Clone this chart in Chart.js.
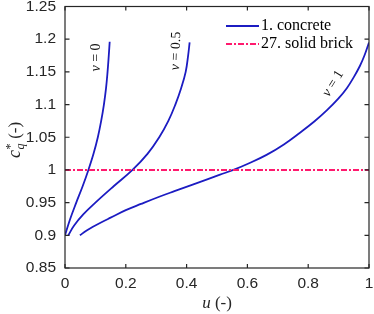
<!DOCTYPE html>
<html lang="en">
  <head>
    <meta charset="UTF-8" />
    <title>c_q* against u</title>
    <script src="https://cdn.jsdelivr.net/npm/chart.js@4.4.1/dist/chart.umd.min.js"></script>
    <style>
      html, body { margin: 0; padding: 0; background: #fff; }
    </style>
  </head>
  <body>
    <canvas id="myChart" width="374" height="314"></canvas>
    <script>
      // tick labels
      const xTicks = [0, 0.2, 0.4, 0.6, 0.8, 1];
      const yTicks = [0.85, 0.9, 0.95, 1, 1.05, 1.1, 1.15, 1.2, 1.25];

      // 1. concrete, v = 0
      const uV0 = [0, 0.017, 0.037, 0.058, 0.077, 0.094, 0.108, 0.119, 0.128, 0.135, 0.14, 0.144, 0.147];
      const cV0 = [0.9, 0.925, 0.95, 0.975, 1.0, 1.025, 1.05, 1.075, 1.1, 1.125, 1.15, 1.175, 1.196];

      // 1. concrete, v = 0.5
      const uV05 = [0.011, 0.03, 0.06, 0.1, 0.16, 0.222, 0.272, 0.31, 0.34, 0.363, 0.382, 0.397, 0.405, 0.41];
      const cV05 = [0.9, 0.915, 0.932, 0.95, 0.975, 1.0, 1.025, 1.05, 1.075, 1.1, 1.125, 1.15, 1.175, 1.195];

      // 1. concrete, v = 1
      const uV1 = [0.049, 0.07, 0.092, 0.12, 0.15, 0.2, 0.25, 0.31, 0.36, 0.42, 0.47, 0.51, 0.554, 0.6, 0.663, 0.72, 0.773, 0.82, 0.861, 0.899, 0.927, 0.95, 0.97, 0.985, 1.0];
      const cV1 = [0.9, 0.907, 0.913, 0.92, 0.927, 0.9385, 0.948, 0.959, 0.9675, 0.9775, 0.986, 0.9928, 1.0, 1.009, 1.023, 1.039, 1.057, 1.074, 1.091, 1.109, 1.125, 1.142, 1.159, 1.175, 1.195];

      // 27. solid brick
      const uBrick = [0, 1];
      const cBrick = [1, 1];

      const seriesNames = ["1. concrete", "27. solid brick"];
      const curveNames = ["v = 0", "v = 0.5", "v = 1"];

      const blue = "#1c1cc2";
      const pink = "#ff1a6e";
      const axisCol = "#262626";
      const dashDot = [6, 2, 2, 2];

      function pts(us, cs) {
        return us.map((u, i) => ({ x: u, y: cs[i] }));
      }

      // where the v = ... notes sit (data coords) and their angle
      const notes = [
        { u: 0.102, c: 1.172, rot: -90 },
        { u: 0.365, c: 1.182, rot: -88 },
        { u: 0.882, c: 1.132, rot: -58 },
      ];

      const extras = {
        id: "extras",
        afterDatasetsDraw(chart) {
          const { ctx, chartArea: a, scales } = chart;
          const x = scales.x, y = scales.y;
          ctx.save();

          // box with inward ticks
          ctx.strokeStyle = axisCol;
          ctx.lineWidth = 1.2;
          ctx.strokeRect(a.left, a.top, a.right - a.left, a.bottom - a.top);
          ctx.beginPath();
          xTicks.forEach((v) => {
            const px = x.getPixelForValue(v);
            ctx.moveTo(px, a.bottom); ctx.lineTo(px, a.bottom - 4);
            ctx.moveTo(px, a.top); ctx.lineTo(px, a.top + 4);
          });
          yTicks.forEach((v) => {
            const py = y.getPixelForValue(v);
            ctx.moveTo(a.left, py); ctx.lineTo(a.left + 4.5, py);
            ctx.moveTo(a.right, py); ctx.lineTo(a.right - 4.5, py);
          });
          ctx.stroke();

          // curve notes
          ctx.fillStyle = "#111";
          ctx.textBaseline = "middle";
          notes.forEach((n, i) => {
            const txt = curveNames[i];
            const head = txt.slice(0, 1);
            const tail = txt.slice(1);
            ctx.save();
            ctx.translate(x.getPixelForValue(n.u), y.getPixelForValue(n.c));
            ctx.rotate((n.rot * Math.PI) / 180);
            ctx.font = "italic 14px 'Liberation Serif'";
            const w1 = ctx.measureText(head).width;
            ctx.font = "14px 'Liberation Serif'";
            const w2 = ctx.measureText(tail).width;
            let sx = -(w1 + w2) / 2;
            ctx.textAlign = "left";
            ctx.font = "italic 14px 'Liberation Serif'";
            ctx.fillText(head, sx, 0);
            ctx.font = "14px 'Liberation Serif'";
            ctx.fillText(tail, sx + w1, 0);
            ctx.restore();
          });

          // legend
          const rows = [
            { col: blue, dash: [], name: seriesNames[0], yy: 26 },
            { col: pink, dash: dashDot, name: seriesNames[1], yy: 44 },
          ];
          rows.forEach((r) => {
            ctx.strokeStyle = r.col;
            ctx.lineWidth = 1.8;
            ctx.setLineDash(r.dash);
            ctx.beginPath();
            ctx.moveTo(226, r.yy);
            ctx.lineTo(259, r.yy);
            ctx.stroke();
            ctx.setLineDash([]);
            ctx.fillStyle = "#000";
            ctx.font = "16px 'Liberation Serif'";
            ctx.textAlign = "left";
            ctx.fillText(r.name, 261, r.yy);
          });

          // x title: u (-)
          ctx.fillStyle = axisCol;
          ctx.textBaseline = "alphabetic";
          ctx.font = "italic 17px 'Liberation Serif'";
          const wu = ctx.measureText("u").width;
          ctx.font = "17px 'Liberation Serif'";
          const wr = ctx.measureText(" (-)").width;
          let xs = (a.left + a.right) / 2 - (wu + wr) / 2;
          ctx.font = "italic 17px 'Liberation Serif'";
          ctx.fillText("u", xs, 308);
          ctx.font = "17px 'Liberation Serif'";
          ctx.fillText(" (-)", xs + wu, 308);

          // y title: c*_q (-)
          ctx.save();
          ctx.translate(20, 140);
          ctx.rotate(-Math.PI / 2);
          ctx.font = "italic 18px 'Liberation Serif'";
          const wc = ctx.measureText("c").width;
          ctx.font = "italic 12px 'Liberation Serif'";
          const wq = ctx.measureText("q").width;
          ctx.font = "12px 'Liberation Serif'";
          const ws = ctx.measureText("*").width;
          const wsub = Math.max(wq, ws) + 1;
          ctx.font = "17px 'Liberation Serif'";
          const wp = ctx.measureText(" (-)").width;
          let sx = -(wc + wsub + wp) / 2;
          ctx.font = "italic 18px 'Liberation Serif'";
          ctx.fillText("c", sx, 0);
          ctx.font = "12px 'Liberation Serif'";
          ctx.fillText("*", sx + wc + 0.5, -6);
          ctx.font = "italic 12px 'Liberation Serif'";
          ctx.fillText("q", sx + wc + 0.5, 4);
          ctx.font = "17px 'Liberation Serif'";
          ctx.fillText(" (-)", sx + wc + wsub, 0);
          ctx.restore();

          ctx.restore();
        },
      };

      function curve(us, cs) {
        return {
          data: pts(us, cs),
          borderColor: blue,
          borderWidth: 1.8,
          pointRadius: 0,
          showLine: true,
          tension: 0.4,
        };
      }

      const ctx = document.getElementById("myChart").getContext("2d");
      const myChart = new Chart(ctx, {
        type: "scatter",
        data: {
          datasets: [
            {
              label: seriesNames[1],
              data: pts(uBrick, cBrick),
              borderColor: pink,
              borderWidth: 1.9,
              borderDash: dashDot,
              pointRadius: 0,
              showLine: true,
            },
            Object.assign({ label: seriesNames[0] }, curve(uV0, cV0)),
            Object.assign({ label: seriesNames[0] }, curve(uV05, cV05)),
            Object.assign({ label: seriesNames[0] }, curve(uV1, cV1)),
          ],
        },
        options: {
          responsive: false,
          animation: false,
          devicePixelRatio: 1,
          layout: { padding: { top: 6.5, right: 5, left: 0, bottom: 0 } },
          plugins: {
            legend: { display: false },
            tooltip: { enabled: false },
          },
          scales: {
            x: {
              type: "linear",
              min: 0,
              max: 1,
              grid: { display: false, drawTicks: false },
              border: { display: false },
              ticks: {
                padding: 6,
                color: axisCol,
                font: { family: "'Liberation Sans'", size: 15.5 },
                callback: (v) => String(v),
              },
              afterBuildTicks: (s) => { s.ticks = xTicks.map((v) => ({ value: v })); },
              afterFit: (s) => {
                s.height = 46;
                s.paddingLeft = 0; s.paddingRight = 0;
              },
            },
            y: {
              type: "linear",
              min: 0.85,
              max: 1.25,
              grid: { display: false, drawTicks: false },
              border: { display: false },
              ticks: {
                padding: 9,
                color: axisCol,
                font: { family: "'Liberation Sans'", size: 15.5 },
                callback: (v) => String(v),
              },
              afterBuildTicks: (s) => { s.ticks = yTicks.map((v) => ({ value: v })); },
              afterFit: (s) => {
                s.width = 65;
                s.paddingTop = 0; s.paddingBottom = 0;
              },
            },
          },
        },
        plugins: [extras],
      });
    </script>
  </body>
</html>
